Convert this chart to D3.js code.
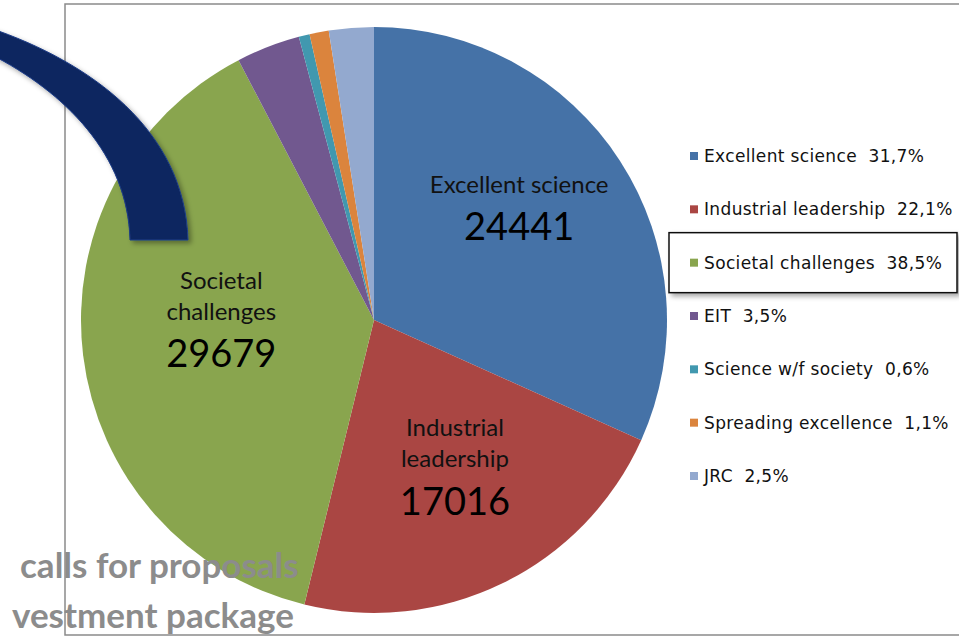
<!DOCTYPE html>
<html>
<head>
<meta charset="utf-8">
<script src="https://cdn.jsdelivr.net/npm/d3@7"></script>
<style>
  html, body { margin: 0; padding: 0; background: #fff; }
  svg { display: block; }
</style>
</head>
<body>
<div id="chart"></div>
<script>
// Horizon 2020 budget split (EUR million)
const categories = ["Excellent science", "Industrial leadership", "Societal challenges", "EIT",
  "Science w/f society", "Spreading excellence", "JRC"];
const values = [24441, 17016, 29679, 2711, 462, 816, 1903];
const colors = ["#4572a7", "#aa4643", "#89a54e", "#71588f", "#4198af", "#db843d", "#93a9cf"];
// slices that carry a label inside the pie, with their line breaks
const sliceLabels = {
  "Excellent science": ["Excellent science"],
  "Industrial leadership": ["Industrial", "leadership"],
  "Societal challenges": ["Societal", "challenges"]
};
// label distance from centre, as a share of the radius (Excel "best fit")
const labelRadius = {"Excellent science": 0.59, "Industrial leadership": 0.63, "Societal challenges": 0.525};

const width = 959, height = 641;
const cx = 374, cy = 320, r = 293;

const svg = d3.select("#chart").append("svg")
  .attr("width", width)
  .attr("height", height);

const defs = svg.append("defs");
const sh = defs.append("filter").attr("id", "shadow")
  .attr("x", "-20%").attr("y", "-20%").attr("width", "140%").attr("height", "140%");
sh.append("feDropShadow").attr("dx", 3).attr("dy", 3).attr("stdDeviation", 2.5)
  .attr("flood-color", "#000").attr("flood-opacity", 0.35);

const data = categories.map((c, i) => ({name: c, value: values[i], color: colors[i]}));
const total = d3.sum(values);
const loc = d3.formatLocale({decimal: ",", thousands: ".", grouping: [3], currency: ["", "€"]});
const pct = loc.format(".1f");

const pie = d3.pie().sort(null).value(d => d.value);
const arcs = pie(data);
const arc = d3.arc().innerRadius(0).outerRadius(r);

const g = svg.append("g").attr("transform", `translate(${cx},${cy})`);
g.selectAll("path.slice")
  .data(arcs)
  .join("path")
  .attr("class", "slice")
  .attr("d", arc)
  .attr("fill", d => d.data.color);

// labels inside the big slices
const lab = g.selectAll("g.lab")
  .data(arcs.filter(d => sliceLabels[d.data.name]))
  .join("g")
  .attr("class", "lab")
  .attr("transform", d => {
    const lr = r * labelRadius[d.data.name];
    const [x, y] = d3.arc().innerRadius(lr).outerRadius(lr).centroid(d);
    return `translate(${x},${y - 22})`;
  });

lab.each(function(d) {
  const lines = sliceLabels[d.data.name];
  const sel = d3.select(this);
  const n = lines.length;
  const top = n === 1 ? -21 : -37;
  lines.forEach((t, i) => {
    sel.append("text")
      .attr("y", top + i * 31)
      .attr("text-anchor", "middle")
      .attr("dominant-baseline", "central")
      .attr("font-family", "Lato, 'Open Sans', sans-serif")
      .attr("font-size", 24)
      .attr("fill", "#111")
      .text(t);
  });
  sel.append("text")
    .attr("y", top + (n - 1) * 31 + 42)
    .attr("text-anchor", "middle")
    .attr("dominant-baseline", "central")
    .attr("font-family", "Lato, 'Open Sans', sans-serif")
    .attr("font-size", 38)
    .attr("fill", "#000")
    .text(d.data.value);
});

// grey slide text behind the frame
const grey = svg.append("g")
  .attr("font-family", "Lato, 'Open Sans', sans-serif")
  .attr("font-weight", 700)
  .attr("font-size", 35)
  .attr("fill", "#8c8c8c");
grey.append("text").attr("x", 20).attr("y", 578).text("calls for proposals");
grey.append("text").attr("x", 12).attr("y", 628).text("vestment package");

// chart frame
svg.append("rect")
  .attr("x", 65).attr("y", 4)
  .attr("width", 960).attr("height", 631)
  .attr("fill", "none")
  .attr("stroke", "#8a8a8a")
  .attr("stroke-width", 1.5);

// navy block arc decoration
svg.append("path")
  .attr("d", "M -10,28 C 90,62 185,130 188,240 L 130,240 C 128,155 65,92 -10,54 Z")
  .attr("fill", "#0f2860")
  .attr("stroke", "#1c3c88")
  .attr("stroke-width", 1)
  .attr("filter", "url(#shadow)");

// legend
const ly = d3.scalePoint().domain(categories).range([156, 476]);
const leg = svg.append("g")
  .attr("font-family", "'DejaVu Sans', Verdana, sans-serif")
  .attr("font-size", 17)
  .attr("letter-spacing", 0.35);

leg.append("rect")
  .attr("x", 669).attr("y", ly("Societal challenges") - 30)
  .attr("width", 288).attr("height", 60)
  .attr("fill", "#fff")
  .attr("stroke", "#111")
  .attr("stroke-width", 1.5)
  .attr("filter", "url(#shadow)");

const item = leg.selectAll("g.item")
  .data(data)
  .join("g")
  .attr("class", "item")
  .attr("transform", d => `translate(690,${ly(d.name)})`);
item.append("rect")
  .attr("x", 0).attr("y", -4)
  .attr("width", 8).attr("height", 8)
  .attr("fill", d => d.color);
item.append("text")
  .attr("x", 14)
  .attr("dominant-baseline", "central")
  .attr("fill", "#111")
  .attr("xml:space", "preserve")
  .text(d => `${d.name}  ${pct(d.value / total * 100)}%`);
</script>
</body>
</html>
